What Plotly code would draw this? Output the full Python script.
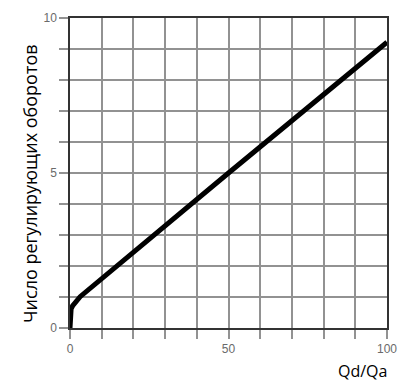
import plotly.graph_objects as go

# data
qd_qa = [0, 0, 0.1, 0.35, 0.8, 1.4, 2.2, 3.2, 50, 100]
turns = [0, 0.36, 0.5, 0.62, 0.71, 0.8, 0.9, 1.01, 5.0, 9.22]

x_tickvals = list(range(0, 101, 10))
x_ticktext = ["0", "", "", "", "", "50", "", "", "", "", "100"]
y_tickvals = list(range(0, 11))
y_ticktext = ["0", "", "", "", "", "5", "", "", "", "", "10"]

fig = go.Figure()
fig.add_trace(go.Scatter(
    x=qd_qa, y=turns, mode="lines",
    line=dict(color="black", width=5),
    hoverinfo="skip", showlegend=False,
))

tickfont = dict(family="Liberation Sans, Arial, sans-serif", size=12, color="#6a6a6a")

axis_common = dict(
    showgrid=True, gridcolor="#929292", gridwidth=1.5,
    zeroline=False, showline=True, linecolor="#333", linewidth=1.5, mirror=True,
    ticks="outside", ticklen=9, tickcolor="#929292", tickwidth=1.5,
    tickfont=tickfont,
)

fig.update_layout(
    width=408, height=383,
    margin=dict(l=70, r=21, t=11, b=55),
    paper_bgcolor="white", plot_bgcolor="white",
    xaxis=dict(range=[0, 100], tickvals=x_tickvals, ticktext=x_ticktext, **axis_common),
    yaxis=dict(range=[0, 10], tickvals=y_tickvals, ticktext=y_ticktext, **axis_common),
    annotations=[
        dict(text="Число регулирующих оборотов", textangle=-90,
             xref="paper", yref="paper", x=-0.126, y=0.465,
             xanchor="center", yanchor="middle", showarrow=False,
             font=dict(family="Open Sans, sans-serif", size=18, color="black")),
        dict(text="Qd/Qa", xref="paper", yref="paper", x=1.006, y=-0.097,
             xanchor="right", yanchor="top", showarrow=False,
             font=dict(family="Open Sans, sans-serif", size=16, color="black")),
    ],
)

fig.write_html(
    "out.html",
    config={"displayModeBar": False},
    post_script="document.body.style.margin='0';document.body.style.overflow='hidden';",
)
